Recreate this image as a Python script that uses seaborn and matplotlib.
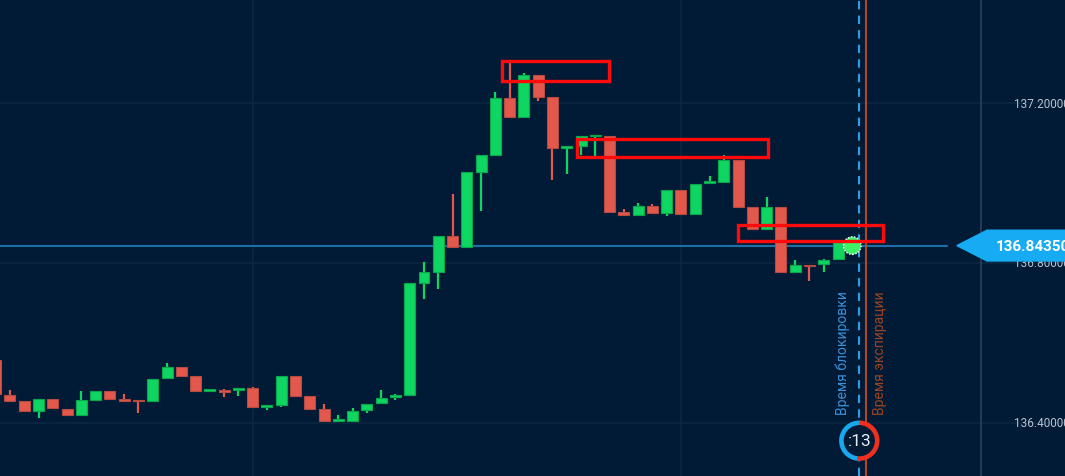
import numpy as np
import pandas as pd
import matplotlib.pyplot as plt
import matplotlib.patches as mpatches
import seaborn as sns

# candles, index -1 is the partial one at the left edge
idx = list(range(-1, 59))
opens = [136.5575, 136.4708, 136.4543, 136.4300, 136.4593, 136.4358, 136.4193, 136.4575, 136.4793, 136.4593,
         136.4575, 136.4550, 136.5118, 136.5393, 136.5168, 136.4808, 136.4825, 136.4833, 136.4875, 136.4400,
         136.4450, 136.5183, 136.4675, 136.4343, 136.4058, 136.4058, 136.4318, 136.4493, 136.4643, 136.4700,
         136.7500, 136.7783, 136.8675, 136.8393, 137.0283, 137.0708, 137.2118, 137.1643, 137.2708, 137.2143,
         137.0883, 137.0918, 137.1168, 137.1163, 136.9268, 136.9200, 136.9418, 136.9258, 136.9833, 136.9218,
         137.0000, 137.0033, 137.0575, 136.9393, 136.8850, 136.9393, 136.7783, 136.7958, 136.7983, 136.8100]
highs = [136.5600, 136.4825, 136.4543, 136.4593, 136.4593, 136.4358, 136.4800, 136.4793, 136.4793, 136.4733,
         136.4575, 136.5100, 136.5493, 136.5393, 136.5168, 136.4850, 136.4850, 136.4868, 136.4908, 136.4443,
         136.5183, 136.5183, 136.4675, 136.4475, 136.4200, 136.4383, 136.4475, 136.4818, 136.4725, 136.7493,
         136.8033, 136.8675, 136.9725, 137.0268, 137.0708, 137.2268, 137.3018, 137.2750, 137.2708, 137.2143,
         137.0918, 137.1163, 137.1205, 137.1163, 136.9350, 136.9500, 136.9483, 136.9833, 136.9833, 136.9983,
         137.0168, 137.0700, 137.0575, 136.9393, 136.9643, 136.9393, 136.8075, 136.7958, 136.8100, 136.8543]
lows = [136.4700, 136.4550, 136.4293, 136.4118, 136.4368, 136.4193, 136.4193, 136.4575, 136.4600, 136.4550,
        136.4258, 136.4550, 136.5118, 136.5183, 136.4808, 136.4808, 136.4658, 136.4675, 136.4393, 136.4333,
        136.4408, 136.4675, 136.4343, 136.4050, 136.4058, 136.4058, 136.4258, 136.4493, 136.4575, 136.4700,
        136.7100, 136.7350, 136.8393, 136.8393, 136.9308, 137.0708, 137.1643, 137.1643, 137.2043, 137.0075,
        137.0225, 137.0700, 137.0618, 136.9268, 136.9168, 136.9168, 136.9233, 136.9175, 136.9225, 136.9218,
        137.0000, 137.0033, 136.9400, 136.8850, 136.8850, 136.7743, 136.7783, 136.7550, 136.7783, 136.8100]
closes = [136.4725, 136.4550, 136.4293, 136.4593, 136.4368, 136.4193, 136.4568, 136.4793, 136.4600, 136.4550,
          136.4543, 136.5100, 136.5393, 136.5183, 136.4808, 136.4850, 136.4783, 136.4868, 136.4393, 136.4443,
          136.5183, 136.4675, 136.4343, 136.4050, 136.4100, 136.4308, 136.4475, 136.4618, 136.4693, 136.7493,
          136.7768, 136.8675, 136.8393, 137.0268, 137.0708, 137.2118, 137.1643, 137.2708, 137.2143, 137.0883,
          137.0918, 137.1163, 137.1205, 136.9268, 136.9208, 136.9418, 136.9258, 136.9833, 136.9225, 136.9983,
          137.0043, 137.0575, 136.9400, 136.8850, 136.9393, 136.7783, 136.7958, 136.7925, 136.8083, 136.8543]

live_idx = 59
live_high = 136.8650
current_price = 136.84350
price_ticks = [136.4, 136.8, 137.2]
grid_candles = [17, 47]

# red rectangles: (left idx, right idx, low price, high price)
box_left = [34.46, 39.70, 50.97]
box_right = [41.96, 53.12, 61.17]
box_low = [137.255, 137.066, 136.854]
box_high = [137.305, 137.110, 136.896]

lock_idx = 59.47
expiry_idx = 59.96
timer_text = ":13"
lock_label = "Время блокировки"
expiry_label = "Время экспирации"

bg = "#011b36"
green = "#0fd561"
red = "#e3584c"

sns.set_theme(style="dark", rc={"axes.facecolor": bg, "figure.facecolor": bg})
plt.rcParams['font.family'] = ['Roboto', 'DejaVu Sans']

df = pd.DataFrame({"i": idx, "open": opens, "high": highs, "low": lows, "close": closes})
df["up"] = df["close"] >= df["open"]
df["color"] = np.where(df["up"], green, red)
df["edge"] = np.where(df["up"], "#0aa64c", "#b54a40")

fig = plt.figure(figsize=(10.65, 4.77), dpi=100)
ax = fig.add_axes([0, 0, 1, 1])
ax.set_xlim(-0.70, 73.90)
ax.set_ylim(136.2675, 137.46)
ax.set_axis_off()
ax.add_patch(mpatches.Rectangle((0, 0), 1, 1, transform=ax.transAxes, color=bg, zorder=0))

# grid
for p in price_ticks:
    ax.axhline(p, color="#0c2542", lw=1.2, zorder=1)
for g in grid_candles:
    ax.axvline(g, color="#0c2542", lw=1.2, zorder=1)
ax.axvline(68.02, color="#263e5c", lw=1.3, zorder=1)

# candles
ax.vlines(df["i"], df["low"], df["high"], colors=df["color"], lw=1.6, zorder=3)
body_lo = df[["open", "close"]].min(axis=1)
body_h = (df["open"] - df["close"]).abs().clip(lower=0.003)
ax.bar(df["i"], body_h, bottom=body_lo, width=0.77, color=df["color"],
       edgecolor=df["edge"], linewidth=0.8, zorder=4)

# live candle
ax.vlines([live_idx], [current_price], [live_high], colors=green, lw=1.6, zorder=3)
sns.scatterplot(x=[live_idx], y=[current_price], s=160, color="#3df265",
                edgecolor="white", linewidth=1.1, ax=ax, zorder=6, legend=False)
ax.collections[-1].set_linestyle((0, (1, 1)))

# current price line
ax.axhline(current_price, xmax=66.33 / 74.6, color="#1d6fa5", lw=1.5, zorder=2)

# red boxes
for l, r, lo, hi in zip(box_left, box_right, box_low, box_high):
    ax.add_patch(mpatches.Rectangle((l, lo), r - l, hi - lo, fill=False,
                                    edgecolor="#ff0a0a", lw=2.4, zorder=7))

# lock / expiry lines
ax.axvline(lock_idx, color="#2e9fe6", lw=1.5, ls=(0, (4, 3)), zorder=5)
ax.axvline(expiry_idx, color="#b1481f", lw=1.5, zorder=5)
ax.text(58.35, 136.4225, lock_label, rotation=90, ha="center", va="bottom",
        color="#3b90d8", fontsize=10, zorder=6)
ax.text(60.94, 136.4225, expiry_label, rotation=90, ha="center", va="bottom",
        color="#9c4420", fontsize=10, zorder=6)

# timer circle (in inches so it stays round)
ctr = (8.593, 0.353)
tr = fig.dpi_scale_trans
ax.add_patch(mpatches.Circle(ctr, 0.19, transform=tr, color=bg, zorder=8))
ax.add_patch(mpatches.Wedge(ctr, 0.195, 88, 265, width=0.032, transform=tr, color="#19a8ee", zorder=9))
ax.add_patch(mpatches.Wedge(ctr, 0.195, -95, 88, width=0.032, transform=tr, color="#f0301e", zorder=9))
ax.text(ctr[0], ctr[1], timer_text, transform=tr, ha="center", va="center",
        color="#e8ecf0", fontsize=12.5, zorder=10)

# price scale labels
for p in price_ticks:
    ax.text(70.33, p, f"{p:.5f}", ha="left", va="center", color="#b9c2cd", fontsize=8.5, zorder=6)

# current price tag
tag_h = 0.0385
tag = mpatches.Polygon([(66.33, current_price), (68.44, current_price + tag_h), (74.5, current_price + tag_h),
                        (74.5, current_price - tag_h), (68.44, current_price - tag_h)],
                       closed=True, color="#16abf2", zorder=8)
ax.add_patch(tag)
ax.text(69.05, current_price, f"{current_price:.5f}", ha="left", va="center",
        color="white", fontsize=11, fontweight="bold", zorder=9)

fig.savefig("out.png", dpi=100, facecolor=bg)
